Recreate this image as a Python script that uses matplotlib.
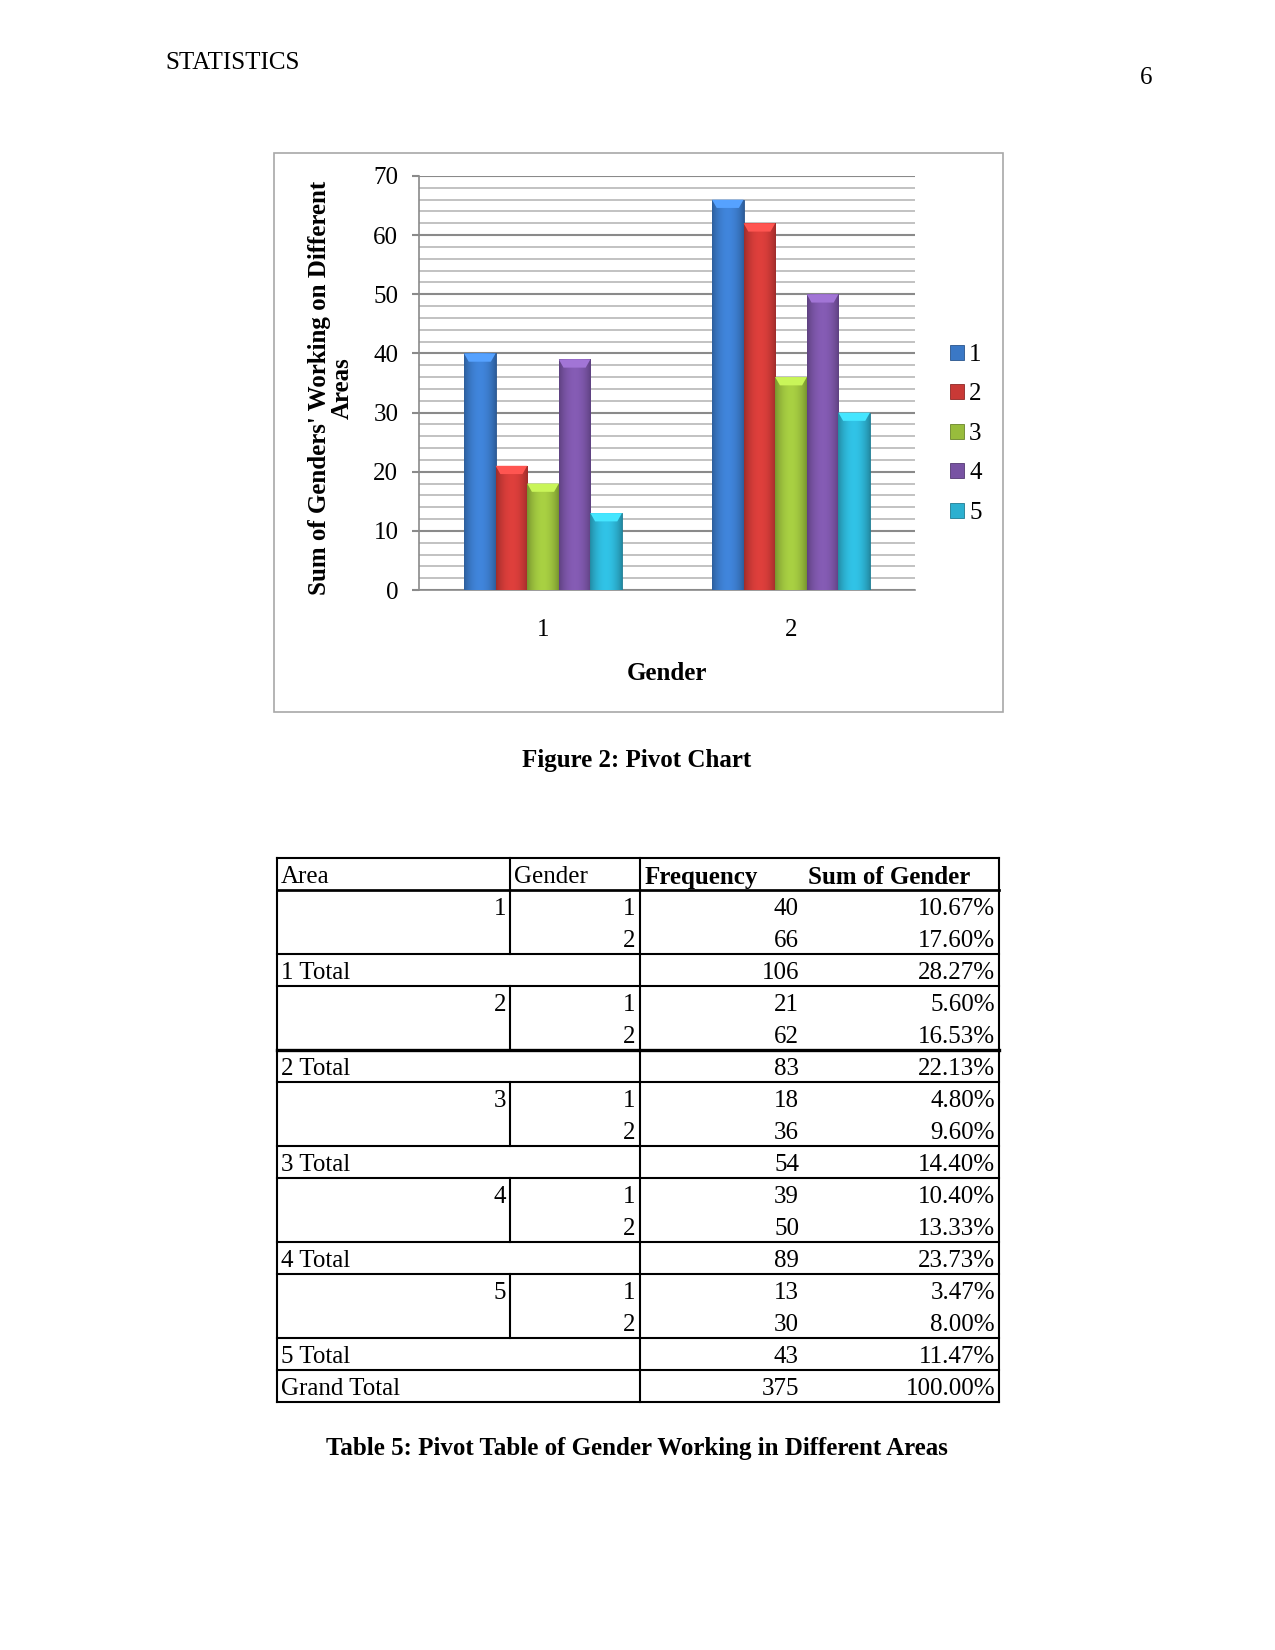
import matplotlib
matplotlib.use('Agg')
import matplotlib.pyplot as plt
import numpy as np
from matplotlib.colors import to_rgb
from matplotlib.patches import Rectangle, Polygon
from matplotlib.lines import Line2D
from matplotlib.ticker import MultipleLocator

plt.rcParams['font.family'] = ['Liberation Serif', 'DejaVu Serif']

# ---------------- data ----------------
genders = ['1', '2']
areas = ['1', '2', '3', '4', '5']
area1 = [40, 66]
area2 = [21, 62]
area3 = [18, 36]
area4 = [39, 50]
area5 = [13, 30]
series_values = [area1, area2, area3, area4, area5]
series_colors = ['#3a78c6', '#c93936', '#98bc3c', '#7853a3', '#2cb0d0']

table_pct = [['10.67%', '17.60%'],
             ['5.60%', '16.53%'],
             ['4.80%', '9.60%'],
             ['10.40%', '13.33%'],
             ['3.47%', '8.00%']]
total_freq = [106, 83, 54, 89, 43]
total_pct = ['28.27%', '22.13%', '14.40%', '23.73%', '11.47%']
grand_freq = 375
grand_pct = '100.00%'
table_header = ['Area', 'Gender', 'Frequency', 'Sum of Gender']

W, H = 1275, 1650
fig = plt.figure(figsize=(W / 150, H / 150), dpi=150)


def fx(x):
    return x / W


def fy(y):
    return 1 - y / H


# page header
fig.text(fx(165), fy(63), 'STATISTICS', fontsize=12, ha='left', va='center')
fig.text(fx(1152), fy(78), '6', fontsize=12, ha='right', va='center')

# chart frame
fig.add_artist(Rectangle((fx(274), fy(712)), (1003 - 274) / W, (712 - 153) / H,
                         transform=fig.transFigure, fill=False, ec='#a8a8a8', lw=0.8))

ax = fig.add_axes([fx(419), fy(590), (915 - 419) / W, (590 - 176) / H])
x = np.arange(len(genders))
nser = len(areas)
group_w = 0.637
bw = group_w / nser
handles = []
for i, (vals, col) in enumerate(zip(series_values, series_colors)):
    bars = ax.bar(x + (i - (nser - 1) / 2) * bw, vals, bw, color=col, zorder=3,
                  label=areas[i], edgecolor=tuple(np.array(to_rgb(col)) * 0.7), linewidth=0.4)
    handles.append(bars)
    base = np.array(to_rgb(col))
    t = np.linspace(0, 1, 64)
    fac = 0.78 + 0.33 * np.sin(np.pi * t) ** 0.8
    grad = np.clip(base[None, :] * fac[:, None], 0, 1)[None, :, :]
    for p in bars.patches:
        x0, y0 = p.get_x(), p.get_y()
        wd, ht = p.get_width(), p.get_height()
        im = ax.imshow(grad, extent=[x0, x0 + wd, y0, y0 + ht], aspect='auto',
                       zorder=3.1, interpolation='bilinear')
        im.set_clip_path(p)
        cap = 1.4
        light = np.clip(base * 1.22 + 0.06, 0, 1)
        ax.add_patch(Polygon([(x0, y0 + ht), (x0 + wd, y0 + ht),
                              (x0 + wd * 0.85, y0 + ht - cap), (x0 + wd * 0.15, y0 + ht - cap)],
                             closed=True, fc=light, ec='none', zorder=3.2))

ax.set_xlim(-0.5, len(genders) - 0.5)
ax.set_ylim(0, 70)
ax.set_xticks(x)
ax.set_xticklabels(genders, fontsize=12)
ax.yaxis.set_major_locator(MultipleLocator(10))
ax.yaxis.set_minor_locator(MultipleLocator(2))
ax.grid(which='major', axis='y', color='#8a8a8a', lw=1.0, zorder=0)
ax.grid(which='minor', axis='y', color='#b8b8b8', lw=0.8, zorder=0)
ax.set_axisbelow(True)
for s in ['top', 'right']:
    ax.spines[s].set_visible(False)
ax.spines['left'].set_color('#8a8a8a')
ax.spines['bottom'].set_color('#8a8a8a')
ax.tick_params(axis='y', which='major', length=3.4, width=1.0, color='#8a8a8a', pad=6.5, labelsize=12)
ax.tick_params(axis='y', which='minor', length=0)
ax.tick_params(axis='x', length=0, pad=14, labelsize=12)

fig.text(fx(331), fy(388), "Sum of Genders' Working on Different\nAreas", rotation=90,
         ha='center', va='center', fontsize=12, fontweight='bold', multialignment='center',
         linespacing=0.95)
fig.text(fx(667), fy(673), 'Gender', fontsize=12, fontweight='bold', ha='center', va='center')

fig.legend([h.patches[0] for h in handles], areas, loc='center left',
           bbox_to_anchor=(fx(928), fy(434)), frameon=False, fontsize=12,
           handlelength=0.55, handleheight=0.55, handletextpad=0.2, labelspacing=0.7)

fig.text(fx(637), fy(760), 'Figure 2: Pivot Chart', fontsize=12, fontweight='bold',
         ha='center', va='center')

# ---------------- table ----------------
L, R = 277, 999
C1, C2 = 510, 640
top, bot = 858.5, 1401.5
nrows = 17
rh = (bot - top) / nrows
dy = 3


def rtop(k):
    return top + k * rh


def hline(y, lw=1.0):
    fig.add_artist(Line2D([fx(L), fx(R)], [fy(y), fy(y)], transform=fig.transFigure,
                          color='black', lw=lw))


def vline(xp, y0, y1, lw=1.0):
    fig.add_artist(Line2D([fx(xp), fx(xp)], [fy(y0), fy(y1)], transform=fig.transFigure,
                          color='black', lw=lw))


def cell(xp, k, s, ha, bold=False):
    fig.text(fx(xp), fy(rtop(k) + rh / 2 + dy), s, fontsize=12, ha=ha, va='center',
             fontweight='bold' if bold else 'normal')


hline(rtop(0))
hline(rtop(1), lw=1.3)
hline(rtop(17))
vline(L, top, bot)
vline(R, top, bot)
vline(C2, top, bot)
vline(C1, rtop(0), rtop(1))

cell(281, 0, table_header[0], 'left')
cell(514, 0, table_header[1], 'left')
cell(645, 0, table_header[2], 'left', bold=True)
cell(808, 0, table_header[3], 'left', bold=True)

for a in range(len(areas)):
    k = 1 + 3 * a
    vline(C1, rtop(k), rtop(k + 2))
    hline(rtop(k + 2), lw=1.6 if a == 1 else 1.0)
    hline(rtop(k + 3), lw=1.0)
    cell(506, k, areas[a], 'right')
    for g in range(len(genders)):
        cell(635, k + g, genders[g], 'right')
        cell(799, k + g, str(series_values[a][g]), 'right')
        cell(995, k + g, table_pct[a][g], 'right')
    cell(281, k + 2, f'{areas[a]} Total', 'left')
    cell(799, k + 2, str(total_freq[a]), 'right')
    cell(995, k + 2, total_pct[a], 'right')

cell(281, 16, 'Grand Total', 'left')
cell(799, 16, str(grand_freq), 'right')
cell(995, 16, grand_pct, 'right')

fig.text(fx(637), fy(1448), 'Table 5: Pivot Table of Gender Working in Different Areas',
         fontsize=12, fontweight='bold', ha='center', va='center')

fig.savefig('out.png', dpi=150)
